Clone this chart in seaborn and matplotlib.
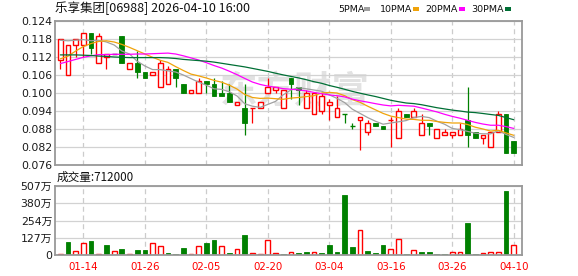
import numpy as np
import pandas as pd
import matplotlib
matplotlib.use("Agg")
import matplotlib.pyplot as plt
import seaborn as sns
from matplotlib.patches import Rectangle

# ---------------- data ----------------
dates = ["01-09", "01-12", "01-13", "01-14", "01-15", "01-16", "01-19", "01-20", "01-21", "01-22",
         "01-23", "01-26", "01-27", "01-28", "01-29", "01-30", "02-02", "02-03", "02-04", "02-05",
         "02-06", "02-09", "02-10", "02-11", "02-12", "02-13", "02-16", "02-20", "02-23", "02-24",
         "02-25", "02-26", "02-27", "03-02", "03-03", "03-04", "03-05", "03-06", "03-09", "03-10",
         "03-11", "03-12", "03-13", "03-16", "03-17", "03-18", "03-19", "03-20", "03-23", "03-24",
         "03-25", "03-26", "03-27", "03-30", "03-31", "04-01", "04-02", "04-08", "04-09", "04-10"]

opens = [0.111, 0.106, 0.116, 0.116, 0.120, 0.110, 0.112, 0.113, 0.119, 0.108,
         0.110, 0.107, 0.106, 0.102, 0.103, 0.108, 0.103, 0.100, 0.100, 0.104,
         0.103, 0.100, 0.100, 0.096, 0.095, 0.095, 0.095, 0.100, 0.101, 0.095,
         0.105, 0.102, 0.095, 0.093, 0.094, 0.096, 0.092, 0.093, 0.089, 0.091,
         0.087, 0.090, 0.089, 0.091, 0.085, 0.093, 0.092, 0.086, 0.090, 0.085,
         0.086, 0.086, 0.086, 0.091, 0.087, 0.085, 0.082, 0.087, 0.093, 0.084]
highs = [0.118, 0.116, 0.118, 0.120, 0.120, 0.120, 0.113, 0.113, 0.119, 0.110,
         0.114, 0.107, 0.107, 0.111, 0.109, 0.108, 0.103, 0.101, 0.105, 0.104,
         0.105, 0.104, 0.103, 0.097, 0.103, 0.095, 0.097, 0.105, 0.102, 0.101,
         0.105, 0.102, 0.101, 0.100, 0.100, 0.098, 0.099, 0.093, 0.090, 0.092,
         0.091, 0.090, 0.089, 0.092, 0.095, 0.093, 0.095, 0.093, 0.090, 0.088,
         0.088, 0.087, 0.090, 0.102, 0.087, 0.086, 0.087, 0.094, 0.093, 0.084]
lows = [0.108, 0.106, 0.112, 0.112, 0.113, 0.110, 0.108, 0.113, 0.110, 0.108,
        0.105, 0.105, 0.106, 0.102, 0.103, 0.102, 0.100, 0.100, 0.100, 0.100,
        0.099, 0.099, 0.097, 0.096, 0.086, 0.090, 0.095, 0.100, 0.100, 0.095,
        0.098, 0.096, 0.095, 0.093, 0.093, 0.091, 0.092, 0.090, 0.088, 0.081,
        0.086, 0.089, 0.088, 0.082, 0.085, 0.092, 0.092, 0.086, 0.086, 0.085,
        0.086, 0.085, 0.086, 0.082, 0.085, 0.083, 0.082, 0.087, 0.080, 0.080]
closes = [0.118, 0.116, 0.118, 0.120, 0.115, 0.119, 0.113, 0.113, 0.110, 0.110,
          0.107, 0.105, 0.107, 0.110, 0.108, 0.105, 0.100, 0.101, 0.104, 0.103,
          0.099, 0.099, 0.097, 0.097, 0.090, 0.095, 0.097, 0.102, 0.102, 0.101,
          0.103, 0.101, 0.100, 0.100, 0.099, 0.097, 0.095, 0.093, 0.089, 0.092,
          0.090, 0.089, 0.088, 0.091, 0.094, 0.092, 0.094, 0.090, 0.089, 0.088,
          0.087, 0.087, 0.088, 0.086, 0.085, 0.086, 0.087, 0.093, 0.080, 0.080]
volumes_wan = [10, 96, 29, 86, 103, 7, 74, 29, 44, 7,
               37, 37, 86, 66, 15, 7, 51, 7, 66, 88,
               110, 66, 15, 44, 147, 15, 7, 110, 15, 7,
               20, 15, 22, 20, 15, 74, 22, 441, 59, 184,
               29, 15, 74, 44, 118, 7, 34, 22, 22, 7,
               7, 20, 20, 235, 7, 12, 20, 22, 470, 71.2]

ma5_head = [0.1176, 0.1174, 0.1176, 0.1178]
ma10_head = [0.1114, 0.1123, 0.1140, 0.1155, 0.1165, 0.1172, 0.1174, 0.1170, 0.1162]
ma20_head = [0.1098, 0.1105, 0.1112, 0.1119, 0.1124, 0.1128, 0.1128, 0.1129, 0.1129, 0.1129,
             0.1130, 0.1130, 0.1131, 0.1132, 0.1133, 0.1130, 0.1124, 0.1117, 0.1110]
ma30_head = [0.1127, 0.1127, 0.1127, 0.1126, 0.1125, 0.1123, 0.1122, 0.1120, 0.1119, 0.1118,
             0.1118, 0.1118, 0.1118, 0.1118, 0.1117, 0.1115, 0.1112, 0.1110, 0.1108, 0.1106,
             0.1103, 0.1099, 0.1095, 0.1091, 0.1087, 0.1082, 0.1077, 0.1072, 0.1066]

tick_labels = ["01-14", "01-26", "02-05", "02-20", "03-04", "03-16", "03-26", "04-10"]
price_ticks = [0.076, 0.082, 0.088, 0.094, 0.100, 0.106, 0.112, 0.118, 0.124]
vol_ticks = [0, 1267500, 2535000, 3802500, 5070000]
vol_tick_labels = ["0", "127万", "254万", "380万", "507万"]
title_text = "乐享集团[06988] 2026-04-10 16:00"
vol_text = "成交量:712000"
legend_labels = ["5PMA", "10PMA", "20PMA", "30PMA"]

# ---------------- style ----------------
sns.set_style("white")
plt.rcParams['font.family'] = ['DejaVu Sans', 'Noto Sans CJK SC']
CJK = ['Noto Sans CJK SC', 'DejaVu Sans']
RED = '#ff0000'
GREEN = '#008000'
MA_COLORS = ['#a0a0a0', '#f0a30a', '#ff00ff', '#006f35']
SPINE = '#999999'

FW, FH = 578, 276
fig = plt.figure(figsize=(FW / 100, FH / 100), dpi=100)
ax1 = fig.add_axes([55 / FW, 111 / FH, 467 / FW, 144 / FH])
ax2 = fig.add_axes([55 / FW, 21 / FH, 467 / FW, 69 / FH])

n = len(dates)
x = np.arange(n)
o = np.array(opens); h = np.array(highs); l = np.array(lows); c = np.array(closes)
prev = np.r_[o[0], c[:-1]]
W = 0.62

# ---------------- candles ----------------
for i in range(n):
    if c[i] > o[i] or (c[i] == o[i] and c[i] > prev[i]):
        col = RED
    elif c[i] < o[i] or (c[i] == o[i] and c[i] < prev[i]):
        col = GREEN
    else:
        col = '#000000'
    top, bot = max(o[i], c[i]), min(o[i], c[i])
    if c[i] > o[i]:
        ax1.vlines(i, top, h[i], color=col, lw=0.9, zorder=2)
        ax1.vlines(i, l[i], bot, color=col, lw=0.9, zorder=2)
        ax1.bar(i, top - bot, bottom=bot, width=W, facecolor='white', edgecolor=col, lw=1.0, zorder=2)
    elif c[i] < o[i]:
        ax1.vlines(i, l[i], h[i], color=col, lw=0.9, zorder=2)
        ax1.bar(i, top - bot, bottom=bot, width=W, facecolor=col, edgecolor=col, lw=0.6, zorder=2)
    else:
        ax1.vlines(i, l[i], h[i], color=col, lw=0.9, zorder=2)
        ax1.hlines(c[i], i - W / 2, i + W / 2, color=col, lw=1.0, zorder=2)

# ---------------- moving averages ----------------
def moving_avg(values, win, head):
    s = pd.Series(values).rolling(win).mean().to_numpy()
    s[:win - 1] = head
    return s

mas = [moving_avg(c, 5, ma5_head), moving_avg(c, 10, ma10_head),
       moving_avg(c, 20, ma20_head), moving_avg(c, 30, ma30_head)]
for ma, colr in zip(mas, MA_COLORS):
    sns.lineplot(x=x, y=ma, ax=ax1, color=colr, lw=0.9, zorder=3)

# watermark
ax1.text(30.5, 0.1005, "东方财富", family=CJK, fontsize=27, color='#e2e2e2',
         ha='center', va='center', zorder=0.5, fontweight='bold')

# ---------------- volume ----------------
vol = np.array(volumes_wan) * 1e4
vol_up = np.r_[True, c[1:] >= c[:-1]]
ax2.bar(x[vol_up], vol[vol_up], width=W, facecolor='white', edgecolor=RED, lw=1.0, zorder=2)
ax2.bar(x[~vol_up], vol[~vol_up], width=W, facecolor=GREEN, edgecolor=GREEN, lw=0.6, zorder=2)

# ---------------- axes styling ----------------
tick_pos = [dates.index(t) for t in tick_labels]
for ax in (ax1, ax2):
    ax.set_xlim(-0.7, 60.08)
    ax.set_xticks(tick_pos)
    ax.set_axisbelow(True)
    ax.grid(axis='y', color='#d2d2d2', lw=0.9, ls='-')
    ax.grid(axis='x', color='#cccccc', lw=0.9, ls=(0, (4, 3)))
    ax.tick_params(length=0, pad=2)
    for sp in ax.spines.values():
        sp.set_visible(True)
        sp.set_color(SPINE)
        sp.set_linewidth(1.3)
    ax.set_xlabel(''); ax.set_ylabel('')

ax1.set_ylim(0.076, 0.124)
ax1.set_yticks(price_ticks)
ax1.set_yticklabels([f"{v:.3f}" for v in price_ticks], fontsize=7.8, color='#1a1a1a')
ax1.set_xticklabels([])

ax2.set_ylim(0, 5070000)
ax2.set_yticks(vol_ticks)
ax2.set_yticklabels(vol_tick_labels, fontsize=7.8, color='#1a1a1a')
ax2.set_xticklabels(tick_labels, fontsize=7.4, color=RED)
ax2.tick_params(axis='x', pad=5)

# ---------------- texts ----------------
fig.text(55 / FW, 1 - 8.5 / FH, title_text, family=CJK, fontsize=9, color='#111111',
         ha='left', va='center')
fig.text(57 / FW, 1 - 177 / FH, vol_text, family=CJK, fontsize=8.4, color='#111111',
         ha='left', va='center')

leg_text_x = [338, 380, 425.5, 471]
leg_box_x = [364.5, 413, 458.5, 505]
for lab, tx, bx, colr in zip(legend_labels, leg_text_x, leg_box_x, MA_COLORS):
    fig.text(tx / FW, 1 - 9 / FH, lab, fontsize=6.8, color='#111111', ha='left', va='center')
    fig.patches.append(Rectangle((bx / FW, 1 - 11 / FH), 6 / FW, 4 / FH,
                                 transform=fig.transFigure, facecolor=colr, edgecolor='none'))

fig.savefig("out.png", dpi=100)
